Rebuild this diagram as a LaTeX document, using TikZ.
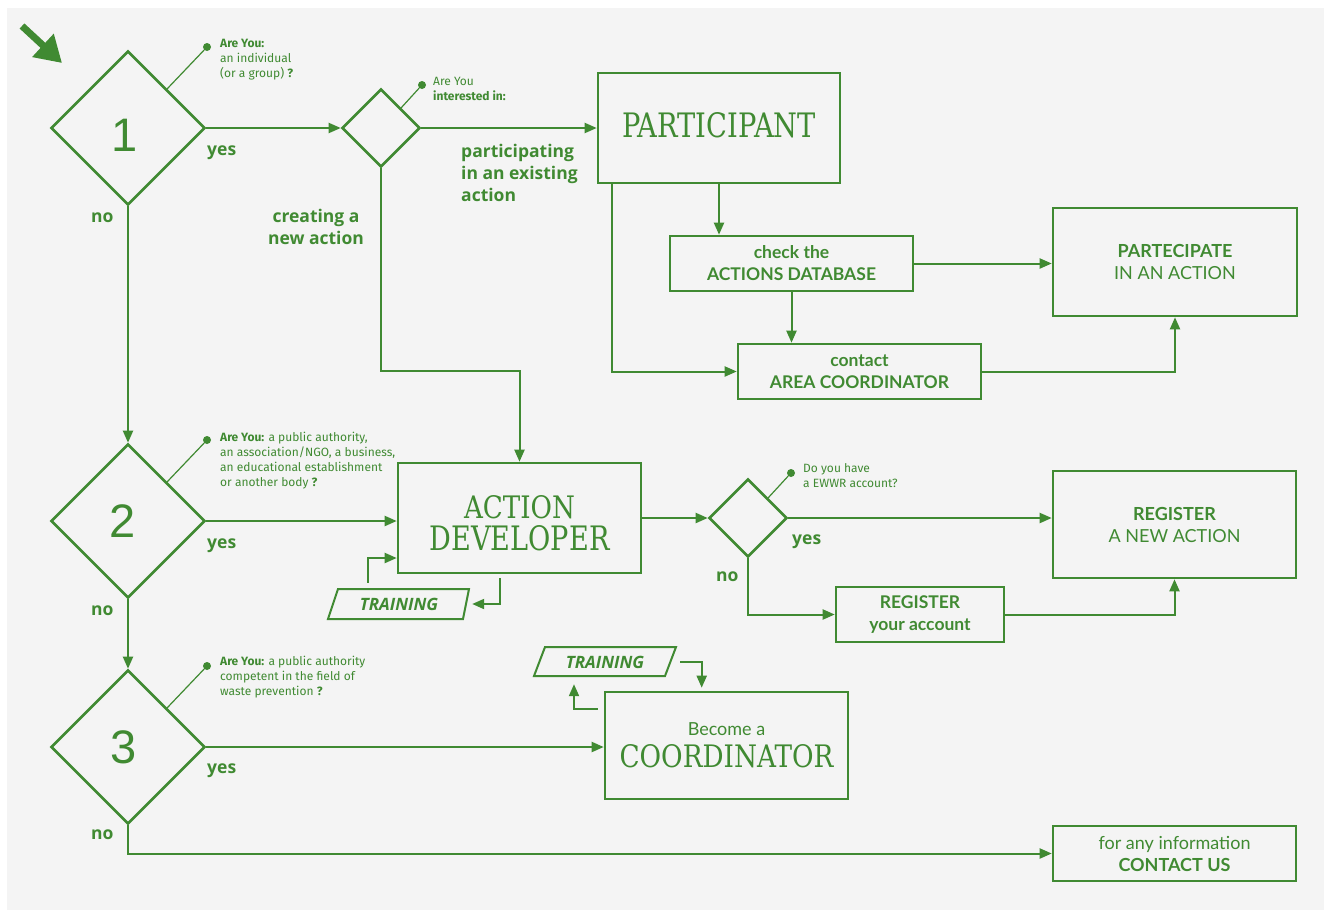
\documentclass[tikz,border=0pt]{standalone}
\usepackage{fontspec}
\usetikzlibrary{arrows.meta,shapes.geometric,calc}
\definecolor{gr}{RGB}{64,138,50}
\definecolor{bg}{RGB}{244,244,244}
\newfontfamily\labf{Open Sans}
\newfontfamily\boxf{Lato}
\newfontfamily\callf{Fira Sans}
\newfontfamily\titlef{DejaVu Serif}
\newfontfamily\numf{Liberation Sans}
\begin{document}
\begin{tikzpicture}[x=1pt,y=-1pt,
  every node/.style={text=gr},
  box/.style={draw=gr, line width=2.6pt, inner sep=0pt, align=center},
  dia/.style={draw=gr, diamond, line width=2.6pt, inner sep=0pt, minimum width=154pt, minimum height=154pt},
  sdia/.style={draw=gr, diamond, line width=2.6pt, inner sep=0pt, minimum width=78pt, minimum height=78pt},
  conn/.style={draw=gr, line width=2pt},
  arr/.style={conn, -{Triangle[length=12pt,width=10pt]}},
  dot/.style={circle, fill=gr, inner sep=0pt, minimum size=8pt},
  callline/.style={draw=gr, line width=1.2pt},
  calltext/.style={anchor=base west, align=left, inner sep=0pt, font=\callf\fontsize{12}{15}\selectfont},
  lab/.style={inner sep=0pt, font=\labf\bfseries\fontsize{17.5}{22}\selectfont},
  boxtext/.style={font=\boxf\bfseries\fontsize{17.5}{22}\selectfont},
  title/.style={font=\titlef\fontsize{20}{32}\selectfont},
  num/.style={inner sep=0pt, font=\numf\fontsize{47}{50}\selectfont},
  trtext/.style={inner sep=0pt, minimum width=130pt, minimum height=30pt, font=\labf\bfseries\itshape\fontsize{17}{20}\selectfont},
  trshape/.style={draw=gr, line width=2pt},
  startarrow/.style={draw=gr, line width=7pt, -{Triangle[length=26pt,width=30pt]}}
]
\useasboundingbox (0,0) rectangle (1324,910);
\fill[bg] (7,8) rectangle (1324,910);

% start arrow
\coordinate (s0) at (22,26);
\coordinate (s1) at (62,63);
\draw[startarrow] (s0) -- (s1);

% decisions
\node[dia] (d1) at (128,128) {};
\node[dia] (d2) at (128,521) {};
\node[dia] (d3) at (128,747) {};
\node[num] (k1) at ($(d1.center)+(-3,7)$) {1};
\node[num] (k2) at ($(d2.center)+(-5,0)$) {2};
\node[num] (k3) at ($(d3.center)+(-4.5,0)$) {3};
\node[sdia] (sd) at (381,128) {};
\node[sdia] (ew) at (748,518) {};

% boxes
\node[box, minimum width=242pt, minimum height=110pt, title] (part) at (719,128) {\resizebox{194pt}{25pt}{PARTICIPANT}\rule[-7pt]{0pt}{7pt}};
\node[box, minimum width=243pt, minimum height=55pt, boxtext] (check) at (791.5,263.5) {check the\\ACTIONS DATABASE};
\node[box, minimum width=243pt, minimum height=55pt, boxtext] (contact) at (859.5,371.5) {contact\\AREA COORDINATOR};
\node[box, minimum width=244pt, minimum height=108pt, font=\boxf\fontsize{18}{22}\selectfont] (partec) at (1175,262) {\textbf{PARTECIPATE}\\IN AN ACTION};
\node[box, minimum width=243pt, minimum height=110pt, title] (ad) at (519.5,518) {\rule{0pt}{33pt}\resizebox{111pt}{23pt}{ACTION}\\\resizebox{180pt}{25pt}{DEVELOPER}};
\node[box, minimum width=243pt, minimum height=107pt, font=\boxf\fontsize{18}{22}\selectfont] (reg) at (1174.5,524.5) {\textbf{REGISTER}\\A NEW ACTION};
\node[box, minimum width=168pt, minimum height=55pt, boxtext] (regacc) at (920,614.5) {REGISTER\\your account};
\node[box, minimum width=243pt, minimum height=107pt, font=\boxf\fontsize{18}{32}\selectfont] (coord) at (726.5,745.5) {Become a\\{\titlef\resizebox{214pt}{23pt}{COORDINATOR}}};
\node[box, minimum width=243pt, minimum height=55pt, font=\boxf\fontsize{18}{22}\selectfont] (cu) at (1174.5,853.5) {for any information\\\textbf{CONTACT US}};

% training
\draw[trshape] (328,619) -- (338,589) -- (469,589) -- (463,619) -- cycle;
\node[trtext] (tr1) at (399,604) {TRAINING};
\draw[trshape] (534,676) -- (545,647) -- (676,647) -- (665,676) -- cycle;
\node[trtext] (tr2) at (605,662) {TRAINING};

% connectors
\draw[arr] (d1.east) -- (sd.west);
\draw[arr] (sd.east) -- (part.west);
\draw[arr] (part.south) -- (part.south |- check.north);
\draw[arr] (check.south) -- (check.south |- contact.north);
\draw[arr] ($(part.south west)+(15,0)$) |- (contact.west);
\draw[arr] (check.east) -- (check.east -| partec.west);
\draw[arr] (contact.east) -| (partec.south);
\draw[arr] (sd.south) -- (sd.south |- 0,371) -| (ad.north);
\draw[arr] (d1.south) -- (d2.north);
\draw[arr] (d2.south) -- (d3.north);
\draw[arr] (d2.east) -- (d2.east -| ad.west);
\draw[arr] (ad.east) -- (ew.west);
\draw[arr] (ew.east) -- (ew.east -| reg.west);
\draw[arr] (ew.south) |- (regacc.west);
\draw[arr] (regacc.east) -| (reg.south);
\draw[arr] (d3.east) -- (d3.east -| coord.west);
\draw[arr] (d3.south) |- (cu.west);
\draw[arr] ($(tr1.north)+(-31,-6)$) |- ($(ad.west)+(0,40)$);
\draw[arr] ($(ad.south)+(-20,4)$) |- ($(tr1.east)+(8,0)$);
\draw[arr] ($(tr2.east)+(10,0)$) -| ($(coord.north west)+(98,-3)$);
\draw[arr] ($(coord.north west)+(-6,18)$) -| ($(tr2.south)+(-31,7)$);

% callouts
\node[dot] (c1) at ($(d1.center)+(79,-81)$) {};
\draw[callline] ($(d1.north)!0.5!(d1.east)$) -- (c1);
\node[dot] (c2) at ($(d2.center)+(79,-81)$) {};
\draw[callline] ($(d2.north)!0.5!(d2.east)$) -- (c2);
\node[dot] (c3) at ($(d3.center)+(79,-81)$) {};
\draw[callline] ($(d3.north)!0.5!(d3.east)$) -- (c3);
\node[dot] (c4) at ($(sd.center)+(41,-43)$) {};
\draw[callline] ($(sd.north)!0.5!(sd.east)$) -- (c4);
\node[dot] (c5) at ($(ew.center)+(43,-45)$) {};
\draw[callline] ($(ew.north)!0.5!(ew.east)$) -- (c5);

\node[calltext] (t1) at (220,77) {\textbf{Are You:}\\an individual\\(or a group) \textbf{?}};
\node[calltext] (t4) at (433,100) {Are You\\\textbf{interested in:}};
\node[calltext] (t2) at (220,486) {\textbf{Are You:} a public authority,\\an association/NGO, a business,\\an educational establishment\\or another body \textbf{?}};
\node[calltext] (t3) at (220,695) {\textbf{Are You:} a public authority\\competent in the field of\\waste prevention \textbf{?}};
\node[calltext] (t5) at (803,487) {Do you have\\a EWWR account?};

% labels
\node[lab, anchor=base west] (y1) at (207,155) {yes};
\node[lab, anchor=base west] (y2) at (207,548) {yes};
\node[lab, anchor=base west] (y3) at (207,773) {yes};
\node[lab, anchor=base west] (y4) at (792,544) {yes};
\node[lab, anchor=base west] (n1) at (91,222) {no};
\node[lab, anchor=base west] (n2) at (91,615) {no};
\node[lab, anchor=base west] (n3) at (91,839) {no};
\node[lab, anchor=base west] (n4) at (716,581) {no};
\node[lab, anchor=base west, align=left] (lp) at (461,201) {participating\\in an existing\\action};
\node[lab, anchor=base, align=center] (lc) at (316,244) {creating a\\new action};
\end{tikzpicture}
\end{document}
